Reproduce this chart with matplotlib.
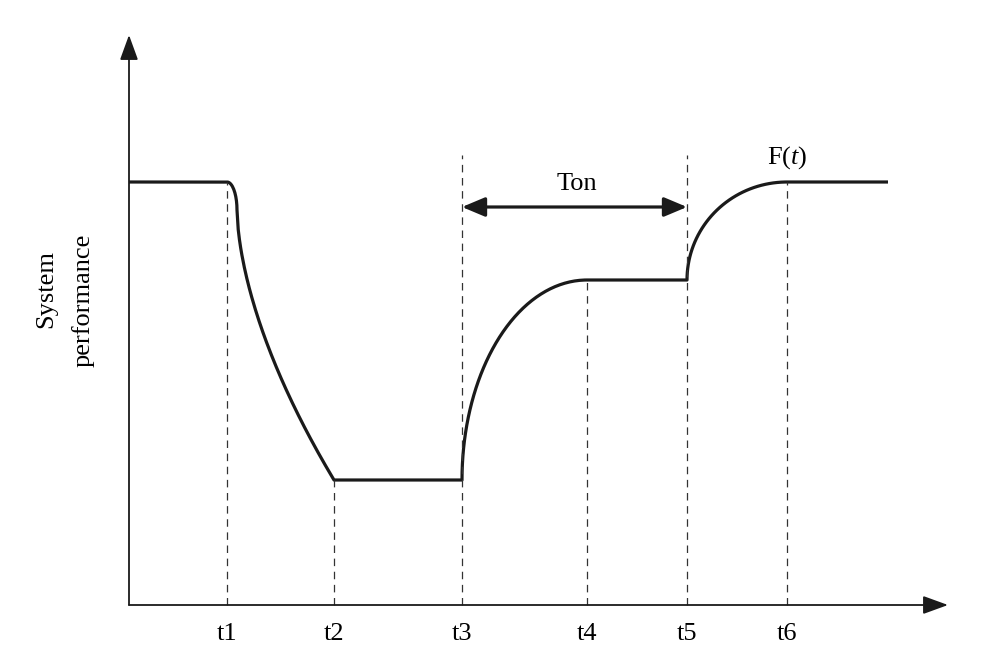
import numpy as np
import matplotlib
matplotlib.use("Agg")
import matplotlib.pyplot as plt

plt.rcParams['font.family'] = ['Liberation Serif', 'DejaVu Serif']
plt.rcParams['mathtext.fontset'] = 'custom'
plt.rcParams['mathtext.rm'] = 'Liberation Serif'
plt.rcParams['mathtext.it'] = 'Liberation Serif:italic'

# ---- data (time positions and performance levels, arbitrary units) ----
t_ticks = [227, 334, 462, 587, 687, 787]
tick_labels = ['t1', 't2', 't3', 't4', 't5', 't6']
t_start = 129
t_end = 888
perf_high = 423
perf_mid = 325
perf_low = 125
corner_dx = 10      # size of rounded corner at t1
corner_dy = 28
dash_tops = [perf_high, perf_low, 450, perf_mid, 450, perf_high]

fig = plt.figure(figsize=(9.94, 6.63), dpi=100)
ax = fig.add_axes([0, 0, 1, 1])
ax.set_xlim(0, 994)
ax.set_ylim(-58, 605)
ax.axis('off')

t1, t2, t3, t4, t5, t6 = t_ticks

xs, ys = [], []
# flat before t1
xs += [t_start, t1]; ys += [perf_high, perf_high]
# rounded corner
th = np.linspace(np.pi / 2, 0, 20)
xs += list(t1 + corner_dx * np.cos(th))
ys += list(perf_high - corner_dy + corner_dy * np.sin(th))
# decay to t2
u = np.linspace(0, 1, 80)
x0 = t1 + corner_dx
y0 = perf_high - corner_dy
xs += list(x0 + (t2 - x0) * u)
ys += list(y0 - (y0 - perf_low) * u ** 0.6)
# flat t2..t3
xs += [t3]; ys += [perf_low]
# recovery t3..t4 (quarter ellipse)
th = np.linspace(0, np.pi / 2, 80)
xs += list(t4 - (t4 - t3) * np.cos(th))
ys += list(perf_low + (perf_mid - perf_low) * np.sin(th))
# flat t4..t5
xs += [t5]; ys += [perf_mid]
# recovery t5..t6
xs += list(t6 - (t6 - t5) * np.cos(th))
ys += list(perf_mid + (perf_high - perf_mid) * np.sin(th))
xs += [t_end]; ys += [perf_high]

ax.plot(xs, ys, color='#1a1a1a', lw=2.3, solid_capstyle='butt', solid_joinstyle='round')

# dashed verticals
for t, top in zip(t_ticks, dash_tops):
    ax.plot([t, t], [0, top], color='#333333', lw=0.9, dashes=(6, 4.5))

# axes with arrows
ax.annotate('', xy=(t_start, 570), xytext=(t_start, 0),
            arrowprops=dict(arrowstyle='-|>,head_length=1.1,head_width=0.4',
                            mutation_scale=14, lw=1.3, color='#1a1a1a',
                            shrinkA=0, shrinkB=0))
ax.annotate('', xy=(948, 0), xytext=(t_start, 0),
            arrowprops=dict(arrowstyle='-|>,head_length=1.1,head_width=0.4',
                            mutation_scale=14, lw=1.3, color='#1a1a1a',
                            shrinkA=0, shrinkB=0))

# Ton arrow
ton_y = 398
ax.annotate('', xy=(t5, ton_y), xytext=(t3, ton_y),
            arrowprops=dict(arrowstyle='<|-|>,head_length=1.0,head_width=0.42',
                            mutation_scale=14, lw=2.3, color='#1a1a1a',
                            shrinkA=0, shrinkB=0))
fs = 19
ax.text((t3 + t5) / 2 + 2, 605 - 184, 'Ton', ha='center', va='center', fontsize=fs)
ax.text(t6, 605 - 158, r'$\mathrm{F}(t)$', ha='center', va='center', fontsize=fs)

for t, lab in zip(t_ticks, tick_labels):
    ax.text(t, 605 - 634, lab, ha='center', va='center', fontsize=fs)

ax.text(46, 605 - 289, 'System', rotation=90, ha='center', va='center', fontsize=fs)
ax.text(83, 605 - 300, 'performance', rotation=90, ha='center', va='center', fontsize=fs)

fig.savefig('out.png', dpi=100)
